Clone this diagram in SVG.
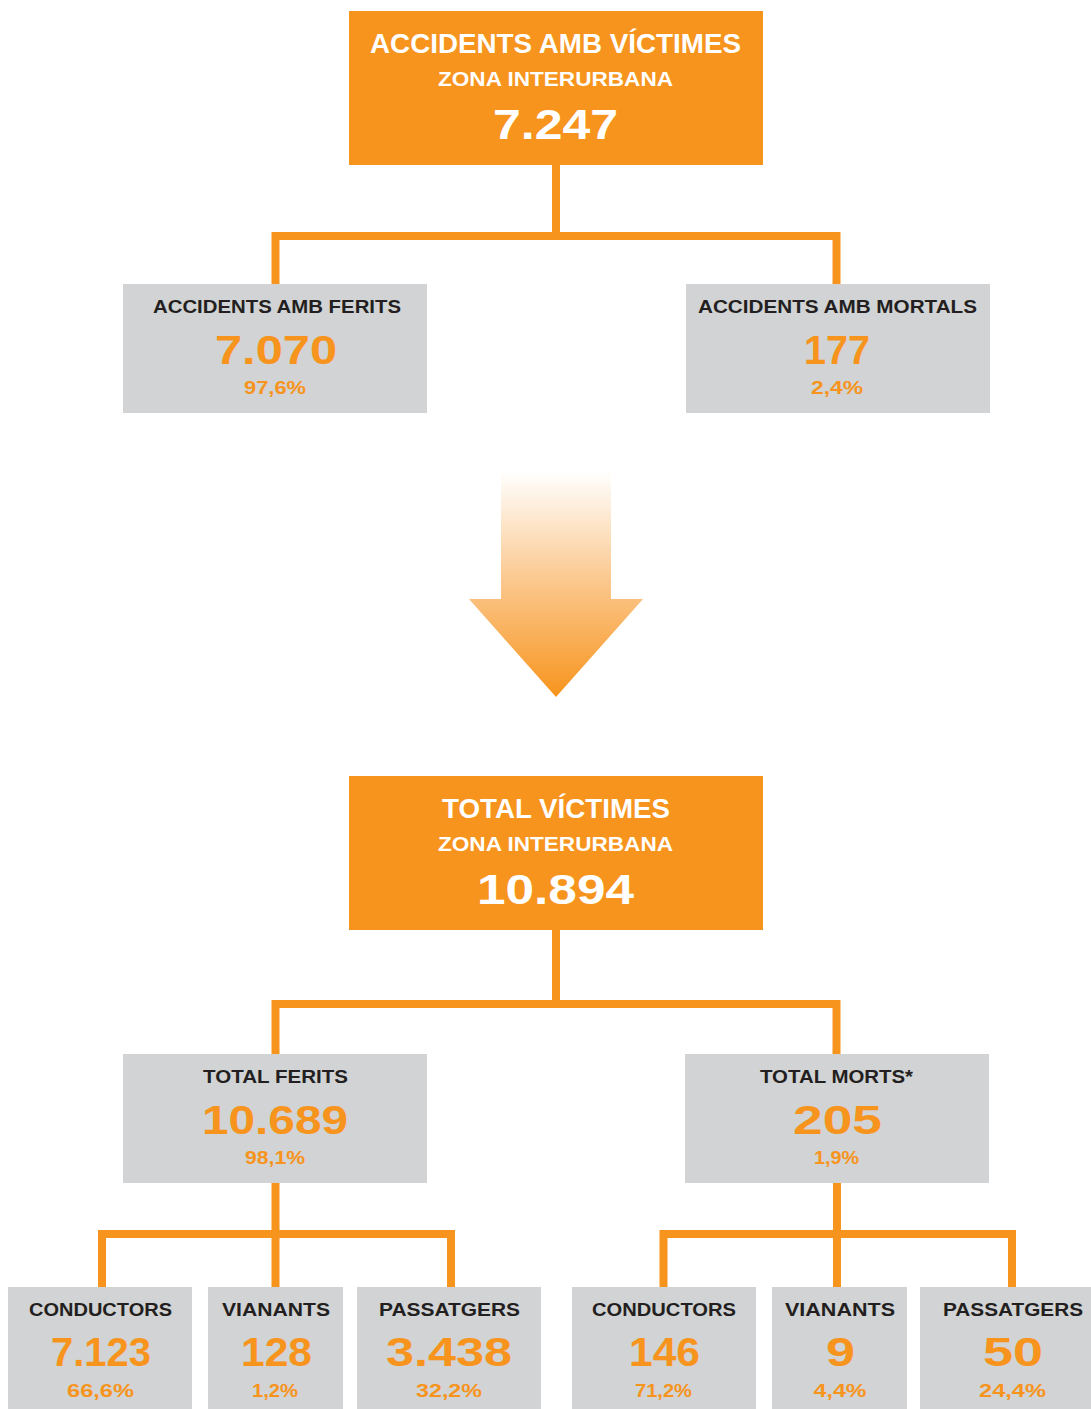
<svg xmlns="http://www.w3.org/2000/svg" width="1091" height="1409" viewBox="0 0 1091 1409">
<defs>
<linearGradient id="ag" gradientUnits="userSpaceOnUse" x1="0" y1="472" x2="0" y2="697">
<stop offset="0" stop-color="#FFFFFF"/>
<stop offset="0.5" stop-color="#FBC68A"/>
<stop offset="1" stop-color="#F7941D"/>
</linearGradient>
<style>
text{font-family:"Liberation Sans",Arial,sans-serif;font-weight:bold;text-anchor:middle}
.ob{fill:#F7941D}
.gb{fill:#D1D3D4}
.w{fill:#FFFFFF}
.d{fill:#231F20}
.o{fill:#F7941D}
.con{fill:none;stroke:#F7941D;stroke-width:8;stroke-linejoin:miter}
.h1{font-size:27px}
.h2{font-size:20px}
.hn{font-size:43px}
.lb{font-size:18px}
.nm{font-size:40px}
.pc{font-size:18px}
</style>
</defs>
<rect width="1091" height="1409" fill="#FFFFFF"/>
<g id="connectors">
<path class="con" d="M556,165 V236"/>
<path class="con" d="M275.5,284 V236 H836.5 V284"/>
<path class="con" d="M556,930 V1004"/>
<path class="con" d="M275.5,1054 V1004 H836.5 V1054"/>
<path class="con" d="M275.5,1183 V1287"/>
<path class="con" d="M102,1287 V1234 H451 V1287"/>
<path class="con" d="M837,1183 V1287"/>
<path class="con" d="M663.5,1287 V1234 H1012 V1287"/>
</g>
<g id="arrow">
<polygon points="501,472 611,472 611,599 643,599 556,697 469,599 501,599" fill="url(#ag)"/>
</g>
<g id="accidents">
<rect class="ob" x="349" y="11" width="414" height="154"/>
<text class="w h1" x="555.5" y="53" textLength="371" lengthAdjust="spacingAndGlyphs">ACCIDENTS AMB VÍCTIMES</text>
<text class="w h2" x="555.5" y="86" textLength="235" lengthAdjust="spacingAndGlyphs">ZONA INTERURBANA</text>
<text class="w hn" x="555.5" y="139" textLength="125" lengthAdjust="spacingAndGlyphs">7.247</text>
</g>
<g id="ferits">
<rect class="gb" x="123" y="284" width="304" height="129"/>
<text class="d lb" x="277" y="313" textLength="248" lengthAdjust="spacingAndGlyphs">ACCIDENTS AMB FERITS</text>
<text class="o nm" x="276" y="364" textLength="122" lengthAdjust="spacingAndGlyphs">7.070</text>
<text class="o pc" x="275" y="394" textLength="62" lengthAdjust="spacingAndGlyphs">97,6%</text>
</g>
<g id="mortals">
<rect class="gb" x="686" y="284" width="304" height="129"/>
<text class="d lb" x="837.5" y="313" textLength="279" lengthAdjust="spacingAndGlyphs">ACCIDENTS AMB MORTALS</text>
<text class="o nm" x="837" y="364" textLength="66" lengthAdjust="spacingAndGlyphs">177</text>
<text class="o pc" x="837" y="394" textLength="52" lengthAdjust="spacingAndGlyphs">2,4%</text>
</g>
<g id="victimes">
<rect class="ob" x="349" y="776" width="414" height="154"/>
<text class="w h1" x="556" y="818" textLength="228" lengthAdjust="spacingAndGlyphs">TOTAL VÍCTIMES</text>
<text class="w h2" x="555.5" y="851" textLength="235" lengthAdjust="spacingAndGlyphs">ZONA INTERURBANA</text>
<text class="w hn" x="555.5" y="904" textLength="157" lengthAdjust="spacingAndGlyphs">10.894</text>
</g>
<g id="total-ferits">
<rect class="gb" x="123" y="1054" width="304" height="129"/>
<text class="d lb" x="275.5" y="1083" textLength="145" lengthAdjust="spacingAndGlyphs">TOTAL FERITS</text>
<text class="o nm" x="275" y="1134" textLength="146" lengthAdjust="spacingAndGlyphs">10.689</text>
<text class="o pc" x="275" y="1164" textLength="60" lengthAdjust="spacingAndGlyphs">98,1%</text>
</g>
<g id="total-morts">
<rect class="gb" x="685" y="1054" width="304" height="129"/>
<text class="d lb" x="836.5" y="1083" textLength="153" lengthAdjust="spacingAndGlyphs">TOTAL MORTS*</text>
<text class="o nm" x="837.5" y="1134" textLength="89" lengthAdjust="spacingAndGlyphs">205</text>
<text class="o pc" x="836.5" y="1164" textLength="45" lengthAdjust="spacingAndGlyphs">1,9%</text>
</g>
<g id="f-conductors">
<rect class="gb" x="8" y="1287" width="184" height="122"/>
<text class="d lb" x="100.5" y="1316" textLength="143" lengthAdjust="spacingAndGlyphs">CONDUCTORS</text>
<text class="o nm" x="101" y="1366" textLength="100" lengthAdjust="spacingAndGlyphs">7.123</text>
<text class="o pc" x="100.5" y="1397" textLength="67" lengthAdjust="spacingAndGlyphs">66,6%</text>
</g>
<g id="f-vianants">
<rect class="gb" x="208" y="1287" width="135" height="122"/>
<text class="d lb" x="276" y="1316" textLength="108" lengthAdjust="spacingAndGlyphs">VIANANTS</text>
<text class="o nm" x="276.5" y="1366" textLength="71" lengthAdjust="spacingAndGlyphs">128</text>
<text class="o pc" x="275" y="1397" textLength="46" lengthAdjust="spacingAndGlyphs">1,2%</text>
</g>
<g id="f-passatgers">
<rect class="gb" x="357" y="1287" width="184" height="122"/>
<text class="d lb" x="449.5" y="1316" textLength="141" lengthAdjust="spacingAndGlyphs">PASSATGERS</text>
<text class="o nm" x="449" y="1366" textLength="126" lengthAdjust="spacingAndGlyphs">3.438</text>
<text class="o pc" x="449" y="1397" textLength="66" lengthAdjust="spacingAndGlyphs">32,2%</text>
</g>
<g id="m-conductors">
<rect class="gb" x="572" y="1287" width="184" height="122"/>
<text class="d lb" x="664" y="1316" textLength="144" lengthAdjust="spacingAndGlyphs">CONDUCTORS</text>
<text class="o nm" x="664.5" y="1366" textLength="71" lengthAdjust="spacingAndGlyphs">146</text>
<text class="o pc" x="663.5" y="1397" textLength="57" lengthAdjust="spacingAndGlyphs">71,2%</text>
</g>
<g id="m-vianants">
<rect class="gb" x="772" y="1287" width="135" height="122"/>
<text class="d lb" x="840" y="1316" textLength="110" lengthAdjust="spacingAndGlyphs">VIANANTS</text>
<text class="o nm" x="840.5" y="1366" textLength="29" lengthAdjust="spacingAndGlyphs">9</text>
<text class="o pc" x="840" y="1397" textLength="53" lengthAdjust="spacingAndGlyphs">4,4%</text>
</g>
<g id="m-passatgers">
<rect class="gb" x="920" y="1287" width="171" height="122"/>
<text class="d lb" x="1013" y="1316" textLength="140" lengthAdjust="spacingAndGlyphs">PASSATGERS</text>
<text class="o nm" x="1013" y="1366" textLength="60" lengthAdjust="spacingAndGlyphs">50</text>
<text class="o pc" x="1012.5" y="1397" textLength="67" lengthAdjust="spacingAndGlyphs">24,4%</text>
</g>
</svg>
